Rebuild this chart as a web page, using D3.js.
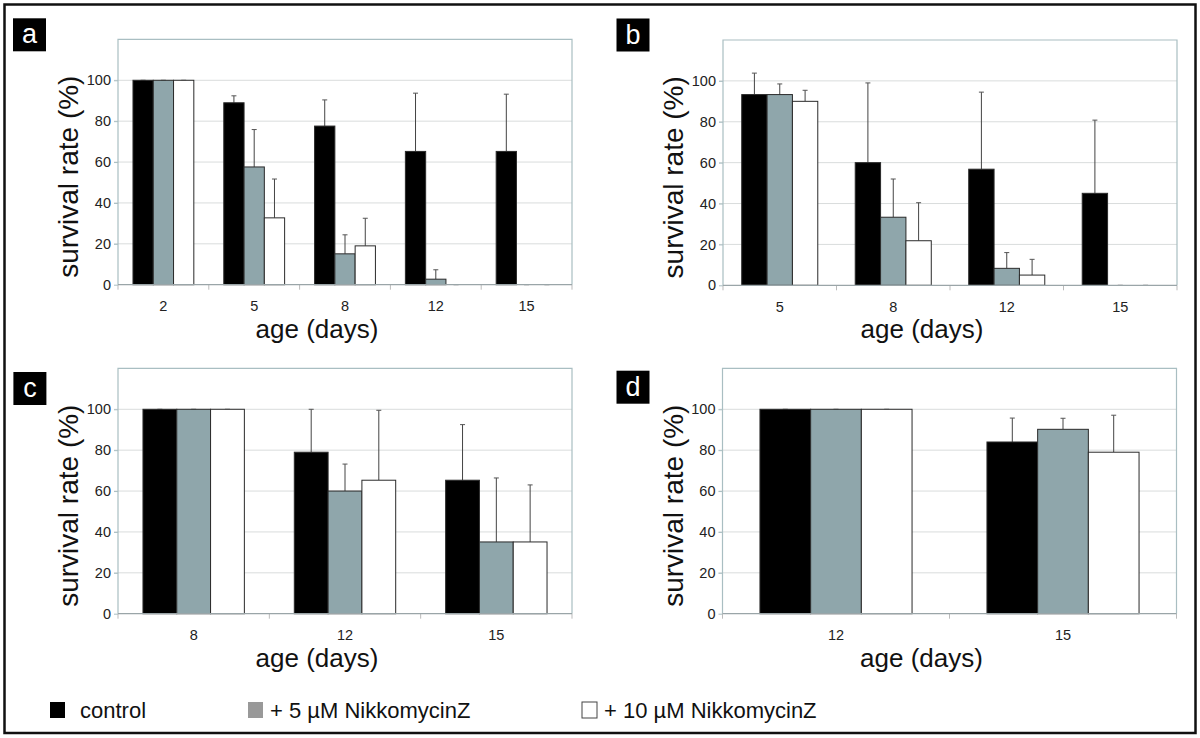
<!DOCTYPE html>
<html>
<head>
<meta charset="utf-8">
<script src="https://cdn.jsdelivr.net/npm/d3@7/dist/d3.min.js"></script>
<style>
  html, body { margin: 0; padding: 0; background: #fff; }
  svg { display: block; font-family: "Liberation Sans", Arial, sans-serif; }
</style>
</head>
<body>
<svg id="chart" width="1200" height="738"></svg>
<script>
// ---------------- data ----------------
const seriesNames = ["control", "+ 5 µM NikkomycinZ", "+ 10 µM NikkomycinZ"];
const yTicks = [0, 20, 40, 60, 80, 100];

// panel a
const daysA = ["2", "5", "8", "12", "15"];
const controlA = [100, 89, 77.6, 65.2, 65.2];
const nz5A     = [100, 57.6, 15.1, 2.7, 0];
const nz10A    = [100, 32.7, 19.0, 0, 0];
const controlErrA = [0, 3.4, 12.8, 28.5, 28];
const nz5ErrA     = [0, 18.3, 9.3, 4.6, 0];
const nz10ErrA    = [0, 19, 13.5, 0, 0];

// panel b
const daysB = ["5", "8", "12", "15"];
const controlB = [93.3, 60, 56.8, 45];
const nz5B     = [93.3, 33.3, 8.3, 0];
const nz10B    = [90, 21.8, 5, 0];
const controlErrB = [10.5, 39, 37.7, 35.8];
const nz5ErrB     = [5.2, 18.7, 7.7, 0];
const nz10ErrB    = [5.4, 18.6, 7.7, 0];

// panel c
const daysC = ["8", "12", "15"];
const controlC = [100, 79, 65.3];
const nz5C     = [100, 60, 35.1];
const nz10C    = [100, 65.3, 35.1];
const controlErrC = [0, 21, 27.2];
const nz5ErrC     = [0, 13.2, 31.3];
const nz10ErrC    = [0, 34.2, 27.9];

// panel d
const daysD = ["12", "15"];
const controlD = [100, 84];
const nz5D     = [100, 90.2];
const nz10D    = [100, 79];
const controlErrD = [0, 11.7];
const nz5ErrD     = [0, 5.4];
const nz10ErrD    = [0, 18.1];

// ---------------- layout / style ----------------
const barColors = ["#000000", "#8fa6ab", "#ffffff"];
const legendColors = ["#000000", "#999999", "#ffffff"];
const plotW = 454, plotH = 245.3;
const FONT = "'Liberation Sans', Arial, sans-serif";

const panels = [
  { label: "a", cats: daysA, vals: [controlA, nz5A, nz10A], errs: [controlErrA, nz5ErrA, nz10ErrA], left: 118, top: 39.4, box: [13, 18.3] },
  { label: "b", cats: daysB, vals: [controlB, nz5B, nz10B], errs: [controlErrB, nz5ErrB, nz10ErrB], left: 723, top: 40, box: [616.5, 18.5] },
  { label: "c", cats: daysC, vals: [controlC, nz5C, nz10C], errs: [controlErrC, nz5ErrC, nz10ErrC], left: 118, top: 368.4, box: [13.4, 372] },
  { label: "d", cats: daysD, vals: [controlD, nz5D, nz10D], errs: [controlErrD, nz5ErrD, nz10ErrD], left: 722.5, top: 368.4, box: [616.5, 370.7] }
];

const svg = d3.select("#chart");

// outer frame
svg.append("rect")
  .attr("x", 4.5).attr("y", 4.5).attr("width", 1191).attr("height", 728.5)
  .attr("fill", "none").attr("stroke", "#111").attr("stroke-width", 2.5);

panels.forEach(p => {
  const g = svg.append("g").attr("transform", `translate(${p.left},${p.top})`);
  const y = d3.scaleLinear().domain([0, 120]).range([plotH, 0]);
  const x0 = d3.scaleBand().domain(p.cats).range([0, plotW]).paddingInner(0).paddingOuter(0);
  const bw = x0.bandwidth();
  const x1 = d3.scaleBand().domain(d3.range(3)).range([bw * 0.165, bw * 0.835]).padding(0);

  // grid lines
  g.append("g").selectAll("line").data(yTicks.filter(t => t > 0)).join("line")
    .attr("x1", -4).attr("x2", plotW)
    .attr("y1", d => y(d)).attr("y2", d => y(d))
    .attr("stroke", "#d9dcdc").attr("stroke-width", 1);

  // plot frame (left, top, right)
  g.append("path")
    .attr("d", `M0,${plotH}V0H${plotW}V${plotH}`)
    .attr("fill", "none").attr("stroke", "#a9bec2").attr("stroke-width", 1.2);

  // y axis
  const yAxis = d3.axisLeft(y).tickValues(yTicks).tickSize(4).tickPadding(3);
  const ya = g.append("g").call(yAxis);
  ya.attr("font-family", FONT);
  ya.select(".domain").remove();
  ya.selectAll(".tick line").attr("stroke", "#a9bec2");
  ya.selectAll(".tick text").attr("font-size", 14.5).attr("fill", "#222");

  // x axis ticks at group boundaries
  const bounds = d3.range(p.cats.length + 1).map(i => i * bw);
  g.append("g").selectAll("line").data(bounds).join("line")
    .attr("x1", d => d).attr("x2", d => d)
    .attr("y1", plotH).attr("y2", plotH + 5)
    .attr("stroke", "#bbbbbb");

  // x labels
  const xAxis = d3.axisBottom(x0).tickSize(0).tickPadding(0);
  const xa = g.append("g").attr("transform", `translate(0,${plotH})`).call(xAxis);
  xa.attr("font-family", FONT);
  xa.select(".domain").remove();
  xa.selectAll(".tick text").attr("font-size", 14.5).attr("fill", "#222")
    .attr("dy", null).attr("y", 26.5);

  // bars
  const data = [];
  p.cats.forEach((c, i) => {
    for (let s = 0; s < 3; s++) data.push({ c, s, v: p.vals[s][i], e: p.errs[s][i] });
  });

  // error bars (upper part only)
  const eg = g.append("g");
  eg.selectAll("line.stem").data(data.filter(d => d.e > 0)).join("line")
    .attr("class", "stem")
    .attr("x1", d => x0(d.c) + x1(d.s) + x1.bandwidth() / 2)
    .attr("x2", d => x0(d.c) + x1(d.s) + x1.bandwidth() / 2)
    .attr("y1", d => y(d.v)).attr("y2", d => y(d.v + d.e))
    .attr("stroke", "#444").attr("stroke-width", 1);
  eg.selectAll("line.cap").data(data).join("line")
    .attr("class", "cap")
    .attr("x1", d => x0(d.c) + x1(d.s) + x1.bandwidth() / 2 - 2.5)
    .attr("x2", d => x0(d.c) + x1(d.s) + x1.bandwidth() / 2 + 2.5)
    .attr("y1", d => y(d.v + d.e)).attr("y2", d => y(d.v + d.e))
    .attr("stroke", "#555").attr("stroke-width", 1);

  g.append("g").selectAll("rect").data(data.filter(d => d.v > 0)).join("rect")
    .attr("x", d => x0(d.c) + x1(d.s))
    .attr("width", x1.bandwidth())
    .attr("y", d => y(d.v))
    .attr("height", d => y(0) - y(d.v))
    .attr("fill", d => barColors[d.s])
    .attr("stroke", "#2a2a2a").attr("stroke-width", 1);

  // baseline
  g.append("line").attr("x1", 0).attr("x2", plotW).attr("y1", plotH).attr("y2", plotH)
    .attr("stroke", "#9aa5a8").attr("stroke-width", 1.2);

  // axis titles
  g.append("text")
    .attr("transform", `translate(-40,${plotH - 108}) rotate(-90)`)
    .attr("text-anchor", "middle")
    .attr("font-size", 28).attr("fill", "#111")
    .text("survival rate (%)");
  g.append("text")
    .attr("x", 199).attr("y", plotH + 53)
    .attr("text-anchor", "middle")
    .attr("font-size", 26).attr("fill", "#111")
    .text("age (days)");

  // panel letter box
  svg.append("rect").attr("x", p.box[0]).attr("y", p.box[1]).attr("width", 33).attr("height", 33).attr("fill", "#000");
  svg.append("text").attr("x", p.box[0] + 16.5).attr("y", p.box[1] + 25)
    .attr("text-anchor", "middle").attr("fill", "#fff").attr("font-size", 27)
    .text(p.label);
});

// legend
const legendX = [50, 248, 582];
const leg = svg.append("g");
seriesNames.forEach((name, i) => {
  leg.append("rect").attr("x", legendX[i]).attr("y", 702).attr("width", 15).attr("height", 16)
    .attr("fill", legendColors[i]).attr("stroke", i === 2 ? "#444" : "none").attr("stroke-width", 1);
  leg.append("text").attr("x", legendX[i] + (i === 0 ? 30 : 22)).attr("y", 718)
    .attr("font-size", 22).attr("fill", "#111").text(name);
});
</script>
</body>
</html>
